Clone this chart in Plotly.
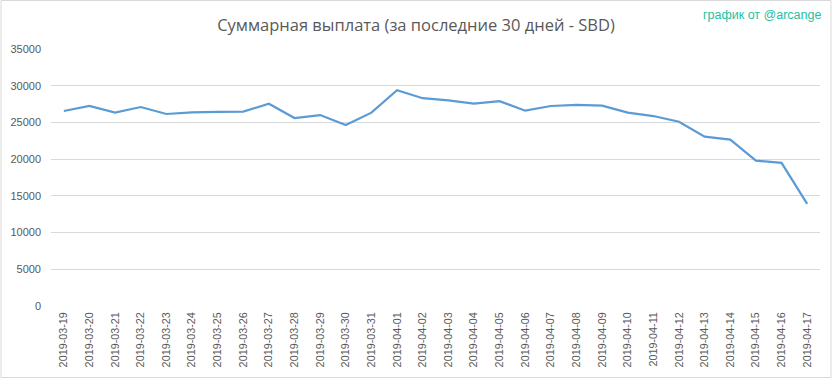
import plotly.graph_objects as go

dates = ["2019-03-19", "2019-03-20", "2019-03-21", "2019-03-22", "2019-03-23", "2019-03-24",
         "2019-03-25", "2019-03-26", "2019-03-27", "2019-03-28", "2019-03-29", "2019-03-30",
         "2019-03-31", "2019-04-01", "2019-04-02", "2019-04-03", "2019-04-04", "2019-04-05",
         "2019-04-06", "2019-04-07", "2019-04-08", "2019-04-09", "2019-04-10", "2019-04-11",
         "2019-04-12", "2019-04-13", "2019-04-14", "2019-04-15", "2019-04-16", "2019-04-17"]
payout_sbd = [26560, 27250, 26330, 27100, 26150, 26380, 26430, 26470, 27550, 25600,
              26000, 24650, 26330, 29400, 28300, 28000, 27550, 27900, 26600, 27240,
              27380, 27280, 26330, 25870, 25100, 23060, 22650, 19800, 19500, 13900]
y_ticks = [0, 5000, 10000, 15000, 20000, 25000, 30000, 35000]

title_text = "Суммарная выплата (за последние 30 дней - SBD)"
credit_text = "график от @arcange"

W, H = 833, 379
L, R, T, B = 51, 13, 49, 73
pw, ph = W - L - R, H - T - B

def px(x):
    return (x - L) / pw

def py(y):
    return (H - B - y) / ph

fig = go.Figure()
fig.add_trace(go.Scatter(
    x=dates, y=payout_sbd, mode="lines",
    line=dict(color="#5b9bd5", width=2.2),
    hoverinfo="x+y", showlegend=False,
))

fig.update_layout(
    width=W, height=H,
    margin=dict(l=L, r=R, t=T, b=B, autoexpand=False),
    paper_bgcolor="white", plot_bgcolor="white",
    font=dict(family="Liberation Sans, Arial, sans-serif", color="#595959", size=11),
    title=dict(text=title_text, x=px(416), xref="paper", xanchor="center",
               y=1 - 25 / H, yanchor="middle", automargin=False,
               font=dict(family="Open Sans, sans-serif", size=16.5, color="#595959")),
    xaxis=dict(type="category", tickangle=-90, showgrid=False, showline=False,
               zeroline=False, ticks="", tickfont=dict(size=10.8, color="#595959"),
               range=[-0.5, len(dates) - 0.5], fixedrange=True, automargin=False,
               ticklabelstandoff=3),
    yaxis=dict(range=[0, 35000], tickvals=y_ticks, ticktext=[str(v) for v in y_ticks],
               showgrid=True, gridcolor="#d9d9d9", gridwidth=1, zeroline=False,
               showline=False, ticks="", ticklabelstandoff=9, automargin=False,
               tickfont=dict(size=11, color="#595959"), fixedrange=True),
    annotations=[dict(text=credit_text, xref="paper", yref="paper",
                      x=px(762), y=py(15), xanchor="center", yanchor="middle",
                      showarrow=False,
                      font=dict(family="Liberation Sans, Arial, sans-serif", size=12.5, color="#22c1a0"))],
    shapes=[dict(type="rect", xref="paper", yref="paper",
                 x0=px(1), x1=px(831), y0=py(377.5), y1=py(0.5),
                 line=dict(color="#d9d9d9", width=1), fillcolor="rgba(0,0,0,0)", layer="below")],
)

fig.write_html("out.html", config={"displayModeBar": False},
               post_script="document.body.style.margin='0';")
